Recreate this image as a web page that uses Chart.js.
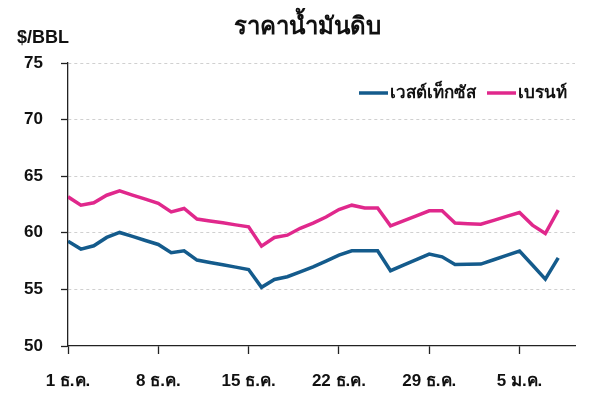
<!DOCTYPE html>
<html>
<head>
<meta charset="utf-8">
<script src="https://cdn.jsdelivr.net/npm/chart.js@4"></script>
<style>
  html, body { margin: 0; padding: 0; background: #fff; }
  #wrap { width: 600px; height: 396px; position: relative; }
</style>
</head>
<body>
<div id="wrap"><canvas id="oilChart"></canvas></div>
<script>
// --- Data ---
const chartTitle = "ราคาน้ำมันดิบ";
const unitLabel  = "$/BBL";
const seriesNames = ["เวสต์เท็กซัส", "เบรนท์"];

// day offset from 1 Dec
const days = [0, 1, 2, 3, 4, 5, 6, 7, 8, 9, 10, 11, 12, 13, 14, 15, 16, 17, 18, 19,
              20, 21, 22, 23, 24, 25, 26, 27, 28, 29, 30, 31, 32, 33, 34, 35, 36, 37, 38];

const wti = [59.26, 58.56, 58.85, 59.59, 60.03, 59.68, 59.32, 58.97, 58.24, 58.41,
             57.59, 57.38, 57.17, 56.97, 56.76, 55.18, 55.88, 56.12, 56.55, 57.00,
             57.50, 58.03, 58.41, 58.41, 58.41, 56.65, 57.14, 57.63, 58.12, 57.88,
             57.20, 57.22, 57.24, 57.62, 58.00, 58.38, 57.15, 55.91, 57.79];

const brent = [63.18, 62.44, 62.65, 63.32, 63.70, 63.33, 62.97, 62.60, 61.85, 62.15,
               61.22, 61.05, 60.88, 60.70, 60.53, 58.82, 59.59, 59.79, 60.40, 60.85,
               61.40, 62.06, 62.44, 62.20, 62.20, 60.62, 61.06, 61.50, 61.94, 61.94,
               60.86, 60.81, 60.76, 61.10, 61.45, 61.79, 60.68, 59.94, 62.00];

const tickDays   = [0, 7, 14, 21, 28, 35];
const tickLabels = ["1 ธ.ค.", "8 ธ.ค.", "15 ธ.ค.", "22 ธ.ค.", "29 ธ.ค.", "5 ม.ค."];

const colors = ["#145b8c", "#e0288c"];
const FONT = "'Liberation Sans', Arial, 'Noto Sans', sans-serif";

// --- Helper: build points ---
const toPoints = vals => vals.map((v, i) => ({ x: days[i], y: v }));

// --- Title, unit and legend drawn on canvas ---
const decorPlugin = {
  id: "decor",
  afterDraw(chart) {
    const ctx = chart.ctx;
    ctx.save();
    ctx.fillStyle = "#111";
    ctx.textBaseline = "middle";

    ctx.font = `bold 24px ${FONT}`;
    ctx.textAlign = "center";
    ctx.fillText(chartTitle, 307, 27);

    ctx.font = `bold 18px ${FONT}`;
    ctx.textAlign = "left";
    ctx.fillText(unitLabel, 17, 38);

    // legend
    let x = 359;
    const y = 93;
    seriesNames.forEach((name, i) => {
      ctx.strokeStyle = colors[i];
      ctx.lineWidth = 3.5;
      ctx.beginPath();
      ctx.moveTo(x, y);
      ctx.lineTo(x + 29, y);
      ctx.stroke();
      ctx.fillStyle = "#111";
      ctx.font = `bold 17px ${FONT}`;
      ctx.fillText(name, x + 31, y);
      x = 487;
    });
    ctx.restore();
  }
};

// --- Chart ---
new Chart(document.getElementById("oilChart"), {
  type: "line",
  data: {
    datasets: [
      { label: seriesNames[0], data: toPoints(wti),   borderColor: colors[0], borderWidth: 3.5, pointRadius: 0, tension: 0 },
      { label: seriesNames[1], data: toPoints(brent), borderColor: colors[1], borderWidth: 3.5, pointRadius: 0, tension: 0 }
    ]
  },
  options: {
    responsive: true,
    maintainAspectRatio: false,
    animation: false,
    layout: { padding: { top: 63, right: 25, left: 0, bottom: 0 } },
    plugins: {
      legend: { display: false },
      tooltip: { enabled: false }
    },
    scales: {
      x: {
        type: "linear",
        min: 0,
        max: 39.3,
        afterFit: s => { s.height = 50; },
        afterBuildTicks: s => { s.ticks = tickDays.map(v => ({ value: v })); },
        ticks: {
          callback: v => tickLabels[tickDays.indexOf(v)] || "",
          font: { family: FONT, size: 17, weight: "bold" },
          color: "#111",
          padding: 17,
          maxRotation: 0,
          autoSkip: false
        },
        grid: { drawOnChartArea: false, tickLength: 8, tickColor: "#222", tickWidth: 1.3 },
        border: { color: "#222", width: 1.3 }
      },
      y: {
        min: 50,
        max: 75,
        afterFit: s => { s.width = 68; },
        ticks: {
          stepSize: 5,
          font: { family: FONT, size: 17, weight: "bold" },
          color: "#111",
          padding: 18
        },
        grid: {
          color: ctx => ctx.tick && ctx.tick.value === 50 ? "rgba(0,0,0,0)" : "#d0d0d0",
          tickLength: 7,
          tickColor: "#222",
          tickWidth: 1.3
        },
        border: { color: "#222", width: 1.3, dash: [3, 3] }
      }
    }
  },
  plugins: [decorPlugin]
});
</script>
</body>
</html>
